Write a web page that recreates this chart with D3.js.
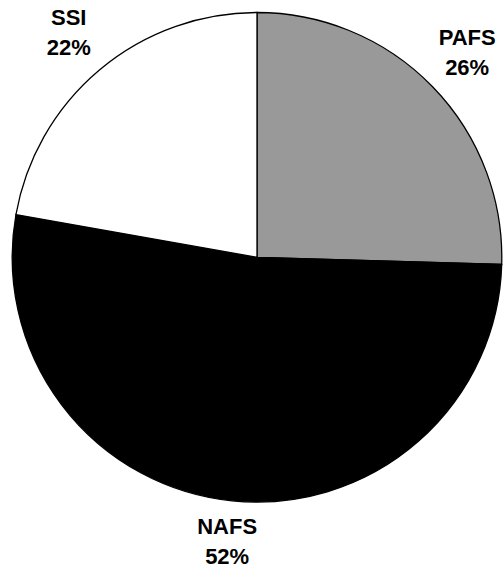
<!DOCTYPE html>
<html>
<head>
<meta charset="utf-8">
<script src="https://cdn.jsdelivr.net/npm/d3@7"></script>
<style>
  html, body { margin: 0; padding: 0; background: #fff; }
  text { font-family: "Liberation Sans", Arial, sans-serif; font-weight: bold; }
</style>
</head>
<body>
<svg></svg>
<script>
// slice values (percent), in drawing order clockwise from 12 o'clock
let categories = ['PAFS', 'NAFS', 'SSI']
let values = [25.46, 52.33, 22.21]
let pctLabels = ['26%', '52%', '22%']
let colours = ['#999999', '#000000', '#ffffff']

let width = 504
let height = 569
let cx = 257
let cy = 257.3
let radius = 244.8
let labelRadius = 293

let svg = d3.select('svg')
    .attr('width', width)
    .attr('height', height)

let pie = d3.pie()
    .sort(null)
    .value(d => d)

let arcs = pie(values)

let arc = d3.arc()
    .innerRadius(0)
    .outerRadius(radius)

let labelArc = d3.arc()
    .innerRadius(labelRadius)
    .outerRadius(labelRadius)

let g = svg.append('g')
    .attr('transform', 'translate(' + cx + ',' + cy + ')')

g.selectAll('path')
    .data(arcs)
    .enter()
    .append('path')
    .attr('d', arc)
    .attr('fill', (d, i) => colours[i])
    .attr('stroke', '#000')
    .attr('stroke-width', 1.3)

// keep the two-line label block inside the picture
let labelPos = d => {
    let c = labelArc.centroid(d)
    let maxY = height - 27 - cy
    return [c[0], Math.min(c[1], maxY)]
}

let labels = g.selectAll('text.lbl')
    .data(arcs)
    .enter()
    .append('text')
    .attr('class', 'lbl')
    .attr('text-anchor', 'middle')
    .attr('font-size', '22px')
    .attr('fill', '#000')

labels.append('tspan')
    .attr('x', d => labelPos(d)[0])
    .attr('y', d => labelPos(d)[1] - 7.8)
    .text((d, i) => categories[i])

labels.append('tspan')
    .attr('x', d => labelPos(d)[0])
    .attr('y', d => labelPos(d)[1] + 22.3)
    .text((d, i) => pctLabels[i])
</script>
</body>
</html>
